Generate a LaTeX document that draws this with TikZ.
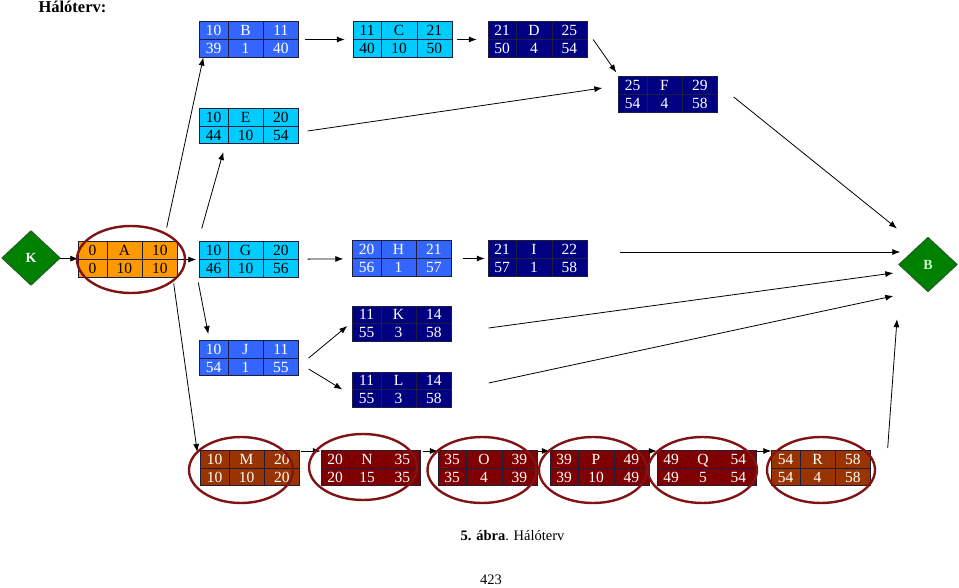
\documentclass[tikz,border=0pt]{standalone}
\usepackage{fontspec}
\setmainfont{Liberation Serif}
\usepackage{array}
\usepackage{colortbl}
\usetikzlibrary{arrows.meta,shapes.geometric}

\definecolor{orangeA}{RGB}{255,153,0}
\definecolor{royal}{RGB}{51,102,255}
\definecolor{skyc}{RGB}{0,204,255}
\definecolor{navyc}{RGB}{0,0,128}
\definecolor{brownc}{RGB}{153,51,0}
\definecolor{maroonc}{RGB}{128,0,0}
\definecolor{greenc}{RGB}{0,128,0}
\definecolor{paleg}{RGB}{204,255,204}
\definecolor{ringc}{RGB}{128,20,20}
\definecolor{gridc}{RGB}{30,30,60}

\setlength{\tabcolsep}{0pt}
\newcolumntype{C}[1]{>{\centering\arraybackslash}p{#1}}
\newcommand{\tevcells}[6]{%
  \renewcommand{\arraystretch}{0.5}\arrayrulecolor{gridc}%
  \begin{tabular}{C{28pt}|C{35pt}|C{35pt}}
    \rule[-3.5pt]{0pt}{17.5pt}#1 & #2 & #3\\ \hline
    \rule[-3.5pt]{0pt}{17.5pt}#4 & #5 & #6
  \end{tabular}}

\begin{document}
\begin{tikzpicture}[
        x=1pt, y=-1pt,
        >={Latex[length=8pt,width=6pt]},
        activity/.style={draw=gridc, line width=0.6pt, inner sep=0pt, font=\fontsize{15.5}{17}\selectfont},
        milestone/.style={diamond, draw=black!80, fill=greenc, minimum width=59pt, minimum height=55pt, inner sep=0pt, font=\bfseries\fontsize{14}{16}\selectfont},
        critical/.style={draw=ringc, line width=2.4pt},
        conn/.style={->, line width=0.8pt}
    ]
    \useasboundingbox (0,0) rectangle (959,588);

    % Nodes
    \node[anchor=base west, font=\bfseries\fontsize{16.5}{19}\selectfont] (title) at (35,13) {Hálóterv:};

    \node[milestone, text=white] (start) at (31,258) {K};
    \node[milestone, text=paleg] (finish) at (928,264.5) {B};

    \node[activity, fill=orangeA, text=black] (a) at (128,259.5) {\tevcells{0}{A}{10}{0}{10}{10}};
    \node[activity, fill=royal, text=white] (b) at (249,39.5) {\tevcells{10}{B}{11}{39}{1}{40}};
    \node[activity, fill=skyc, text=black] (c) at (402.5,39.5) {\tevcells{11}{C}{21}{40}{10}{50}};
    \node[activity, fill=navyc, text=white] (d) at (537.5,39.5) {\tevcells{21}{D}{25}{50}{4}{54}};
    \node[activity, fill=skyc, text=black] (e) at (249,126) {\tevcells{10}{E}{20}{44}{10}{54}};
    \node[activity, fill=navyc, text=white] (f) at (668,94.5) {\tevcells{25}{F}{29}{54}{4}{58}};
    \node[activity, fill=skyc, text=black] (g) at (249,259.5) {\tevcells{10}{G}{20}{46}{10}{56}};
    \node[activity, fill=royal, text=white] (h) at (402,258.5) {\tevcells{20}{H}{21}{56}{1}{57}};
    \node[activity, fill=navyc, text=white] (i) at (537.5,258.5) {\tevcells{21}{I}{22}{57}{1}{58}};
    \node[activity, fill=royal, text=white] (j) at (249,358) {\tevcells{10}{J}{11}{54}{1}{55}};
    \node[activity, fill=navyc, text=white] (k) at (402,323.5) {\tevcells{11}{K}{14}{55}{3}{58}};
    \node[activity, fill=navyc, text=white] (l) at (402,389.5) {\tevcells{11}{L}{14}{55}{3}{58}};

    \node[activity, fill=brownc, text=white] (m) at (250,468) {\tevcells{10}{M}{20}{10}{10}{20}};
    \node[activity, fill=maroonc, text=white] (n) at (370.5,468) {\tevcells{20}{N}{35}{20}{15}{35}};
    \node[activity, fill=maroonc, text=white] (o) at (487.5,468) {\tevcells{35}{O}{39}{35}{4}{39}};
    \node[activity, fill=maroonc, text=white] (p) at (599.5,468) {\tevcells{39}{P}{49}{39}{10}{49}};
    \node[activity, fill=maroonc, text=white] (q) at (706.5,468) {\tevcells{49}{Q}{54}{49}{5}{54}};
    \node[activity, fill=brownc, text=white] (r) at (821,468) {\tevcells{54}{R}{58}{54}{4}{58}};

    \node[font=\fontsize{14.5}{17}\selectfont, anchor=base] (caption) at (512.5,540) {\textbf{5. ábra}. Hálóterv};
    \node[font=\fontsize{14.5}{17}\selectfont, anchor=base] (page) at (491,584) {423};

    % Edges
    \draw[conn] (start) -- (a);
    \draw[conn, shorten >=3pt] (a) -- (g);
    \draw[conn] ([xshift=-11pt,yshift=14pt]a.north east) -- ([xshift=4pt]b.south west);
    \draw[conn] ([xshift=24pt,yshift=13pt]a.north east) -- ([xshift=24pt,yshift=-8pt]e.south west);
    \draw[conn] ([xshift=-4pt,yshift=-6pt]a.south east) -- ([xshift=-3pt,yshift=-2pt]m.north west);

    \draw[conn, shorten <=6pt, shorten >=8pt] (b) -- (c);
    \draw[conn, shorten <=5pt, shorten >=11pt] (c) -- (d);
    \draw[conn] ([xshift=6pt]d.east) -- ([xshift=-2pt,yshift=4pt]f.north west);
    \draw[conn] ([xshift=9pt,yshift=-5pt]e.east) -- ([xshift=-16pt,yshift=6.5pt]f.west);
    \draw[conn] ([xshift=16pt,yshift=-2.5pt]f.east) -- ([xshift=-31pt,yshift=36pt]finish.center);

    \draw[conn, shorten <=9pt, shorten >=9pt] (g) -- (h);
    \draw[conn, shorten <=11pt, shorten >=3pt] (h) -- (i);
    \draw[conn] ([xshift=33pt,yshift=6.5pt]i.east) -- ([xshift=2pt,yshift=12.5pt]finish.west);
    \draw[conn] ([xshift=-1pt,yshift=-5pt]g.south west) -- ([xshift=9pt,yshift=6pt]j.north west);
    \draw[conn] ([xshift=10pt]j.east) -- ([xshift=-5pt,yshift=-2.5pt]k.west);
    \draw[conn] ([xshift=10pt,yshift=-11pt]j.east) -- ([xshift=-10pt]l.west);
    \draw[conn] ([xshift=37pt,yshift=-4.5pt]k.east) -- ([xshift=-5pt,yshift=-8.5pt]finish.west);
    \draw[conn] ([xshift=37pt,yshift=6.5pt]l.east) -- ([xshift=-5pt,yshift=-31.5pt]finish.west);

    \draw[conn, shorten <=1pt] ([yshift=-1pt]m.north east) -- ([yshift=-1pt]n.north west);
    \draw[conn, shorten <=3pt] ([yshift=-1pt]n.north east) -- ([yshift=-1pt]o.north west);
    \draw[conn, shorten <=1pt] ([yshift=-1pt]o.north east) -- ([yshift=-1pt]p.north west);
    \draw[conn, shorten <=1pt] ([yshift=-1pt]p.north east) -- ([yshift=-1pt]q.north west);
    \draw[conn, shorten <=1pt] ([yshift=-1pt]q.north east) -- ([yshift=-1pt]r.north west);
    \draw[conn] ([xshift=17pt,yshift=2pt]r.north east) -- ([xshift=-31pt,yshift=-27pt]finish.south);

    % Critical path
    \draw[critical] ([xshift=3pt]a.center) ellipse [x radius=54pt, y radius=33.5pt];
    \draw[critical] ([xshift=-9pt,yshift=-2pt]m.center) ellipse [x radius=52pt, y radius=33pt];
    \draw[critical] ([xshift=-7.5pt,yshift=1pt]n.center) ellipse [x radius=54pt, y radius=33pt];
    \draw[critical] ([xshift=-5.5pt,yshift=-2pt]o.center) ellipse [x radius=54.5pt, y radius=33pt];
    \draw[critical] ([xshift=-6.5pt,yshift=-2pt]p.center) ellipse [x radius=54pt, y radius=33pt];
    \draw[critical] ([xshift=-4pt,yshift=-2pt]q.center) ellipse [x radius=54.5pt, y radius=33pt];
    \draw[critical] ([yshift=-2pt]r.center) ellipse [x radius=54pt, y radius=33pt];

\end{tikzpicture}
\end{document}
